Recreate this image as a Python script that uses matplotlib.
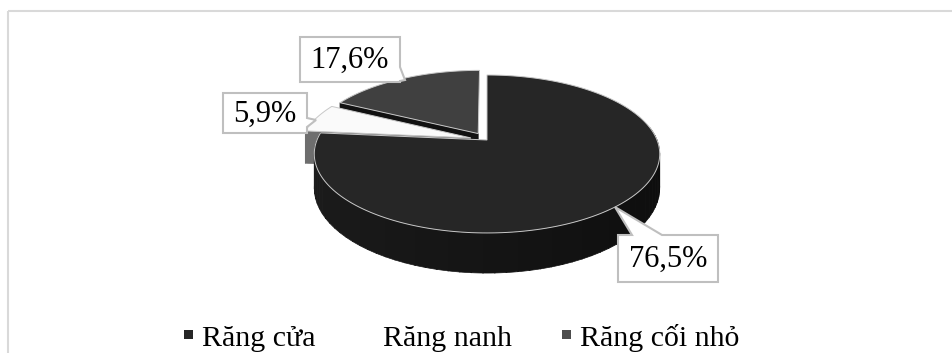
import numpy as np
import matplotlib
matplotlib.use('Agg')
import matplotlib.pyplot as plt
from matplotlib.patches import Polygon, Rectangle

# ---- data ----
categories = ['Răng cửa', 'Răng nanh', 'Răng cối nhỏ']
values = [76.5, 5.9, 17.6]
labels = ['76,5%', '5,9%', '17,6%']

# ---- styles ----
top_colors = ['#262626', '#fafafa', '#404040']
side_colors = ['#141414', '#6e6e6e', '#111111']
legend_colors = ['#262626', '#ffffff', '#4d4d4d']
explode = [0.0, 0.1, 0.1]
FONT = ['Liberation Serif', 'DejaVu Serif']

W, H = 953, 353
fig = plt.figure(figsize=(W / 100, H / 100), dpi=100)
ax = fig.add_axes([0, 0, 1, 1])
ax.set_xlim(0, W)
ax.set_ylim(H, 0)
ax.axis('off')

# chart frame
ax.add_patch(Rectangle((8, 11), W + 20, H + 20, fill=False,
                       edgecolor='#d9d9d9', lw=1.5, zorder=0))

# perspective projection of a disc (u, v in unit circle, z = depth 0..1)
CX, CY = 487, 140
RX, RY, K, DEPTH = 170, 76.5, 0.177, 33


def proj(u, v, z):
    s = 1 + K * v
    return CX + RX * u / s, CY - RY * v / s + DEPTH * z / s


fr = np.array(values) / np.sum(values)
ends = np.cumsum(fr) * 360
starts = ends - fr * 360
mids = (starts + ends) / 2
offs = [(e * np.sin(np.radians(m)), e * np.cos(np.radians(m)))
        for e, m in zip(explode, mids)]

order = np.argsort(-np.cos(np.radians(mids)))  # far slices first


def arc(t1, t2, off, z, n=200):
    th = np.radians(np.linspace(t1, t2, n))
    return proj(np.sin(th) + off[0], np.cos(th) + off[1], z)


for i in order:
    t1, t2, off = starts[i], ends[i], offs[i]
    # outer side (front-facing part)
    a1, a2 = max(t1, 80), min(t2, 280)
    if a2 > a1:
        nseg = 60
        edges = np.linspace(a1, a2, nseg + 1)
        for j in range(nseg):
            xt, yt = arc(edges[j], edges[j + 1] + 0.3, off, 0, 8)
            xb, yb = arc(edges[j], edges[j + 1] + 0.3, off, 1, 8)
            mid = (edges[j] + edges[j + 1]) / 2
            if i == 0:
                g = 0.045 + 0.07 * (mid - 90) / 180
                g = min(max(g, 0.04), 0.12)
                col = (g, g, g)
            else:
                col = side_colors[i]
            pts = np.column_stack([np.r_[xt, xb[::-1]], np.r_[yt, yb[::-1]]])
            ax.add_patch(Polygon(pts, closed=True, facecolor=col,
                                 edgecolor=col, lw=0.5, zorder=2))
    # radial faces facing the viewer
    for t, vis in ((t1, np.sin(np.radians(t1)) < -1e-6),
                   (t2, np.sin(np.radians(t2)) > 1e-6)):
        if vis:
            uo = np.sin(np.radians(t)) + off[0]
            vo = np.cos(np.radians(t)) + off[1]
            p = [proj(off[0], off[1], 0), proj(uo, vo, 0),
                 proj(uo, vo, 1), proj(off[0], off[1], 1)]
            ax.add_patch(Polygon(p, closed=True, facecolor=side_colors[i],
                                 edgecolor=side_colors[i], lw=0.5, zorder=2))
    # top face
    xa, ya = arc(t1, t2, off, 0)
    ax0, ay0 = proj(off[0], off[1], 0)
    pts = np.column_stack([np.r_[ax0, xa], np.r_[ay0, ya]])
    ax.add_patch(Polygon(pts, closed=True, facecolor=top_colors[i],
                         edgecolor='#c8c8c8', lw=0.7, zorder=2))


def callout(x0, y0, x1, y1, edge, b1, b2, tip, text):
    # rectangle (x0,y0)-(x1,y1) in screen px, triangle on given edge
    if edge == 'right':
        pts = [(x0, y0), (x1, y0), (x1, b1), tip, (x1, b2), (x1, y1), (x0, y1)]
    else:
        pts = [(x0, y0), (b1, y0), tip, (b2, y0), (x1, y0), (x1, y1), (x0, y1)]
    ax.add_patch(Polygon(pts, closed=True, facecolor='white',
                         edgecolor='#bfbfbf', lw=1.5, zorder=4,
                         joinstyle='miter'))
    ax.text((x0 + x1) / 2, (y0 + y1) / 2 + 1, text, ha='center', va='center',
            fontsize=22, family=FONT, color='black', zorder=5)


callout(300, 37, 400, 82, 'right', 67, 81, (405, 80), labels[2])
callout(223, 93, 307, 133, 'right', 118, 127, (316, 120), labels[1])
callout(618, 235, 718, 282, 'top', 632, 662, (615, 207), labels[0])

# legend
leg_x = [188.5, 369.5, 566.5]
for x, c, name in zip(leg_x, legend_colors, categories):
    ax.add_patch(Rectangle((x - 4.5, 330), 9, 9, facecolor=c,
                           edgecolor='none', zorder=5))
    ax.text(x + 13.5, 346, name, ha='left', va='baseline', fontsize=21.5,
            family=FONT, color='black', zorder=5)

fig.savefig('out.png', dpi=100)
